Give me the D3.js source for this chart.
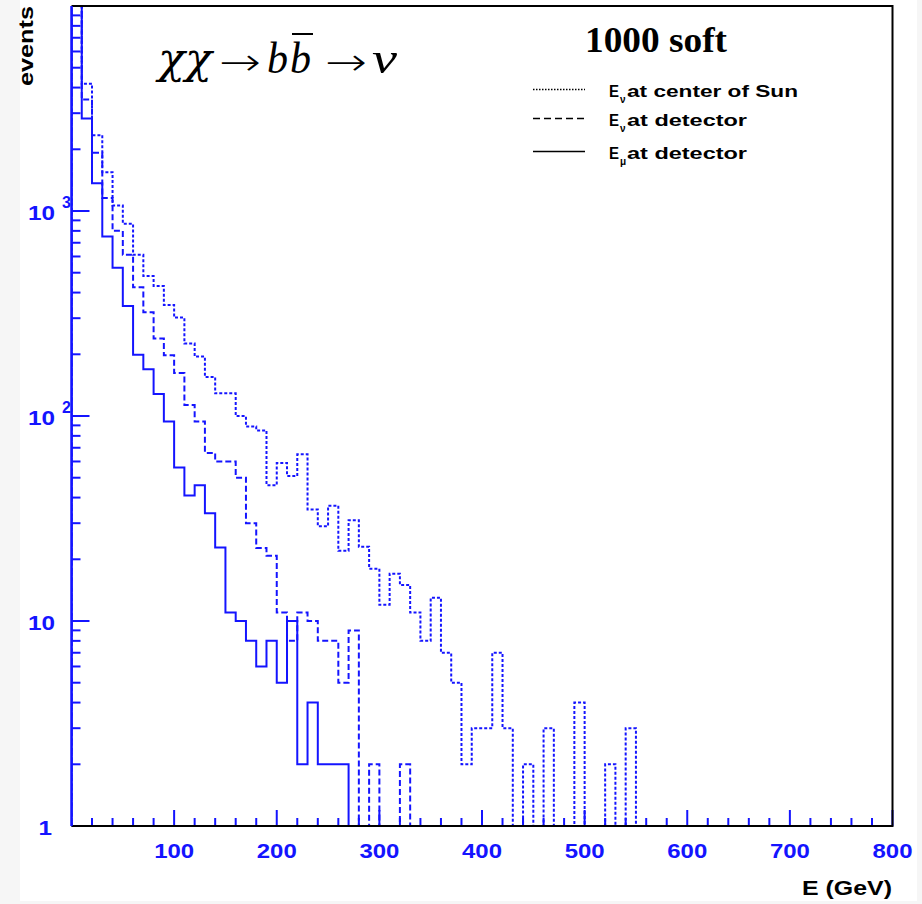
<!DOCTYPE html>
<html>
<head>
<meta charset="utf-8">
<script src="https://cdn.jsdelivr.net/npm/d3@7"></script>
<style>
  body { margin: 0; background: #f6f6f6; }
  svg { display: block; }
</style>
</head>
<body>
<svg id="chart" width="922" height="904"></svg>
<script>
// histogram contents, one value per 10 GeV bin starting at 0
const binWidth = 10;
const sunCenter = [14000, 4180, 2344, 1546, 1064, 866, 611, 482, 431, 348, 302, 226, 195, 155, 129, 129,
  100, 89, 85, 46, 59, 51, 65, 35, 29, 36.5, 22, 31, 23, 18, 12, 17, 15, 11, 8, 13, 7, 5, 2, 3, 3, 7, 3,
  0, 2, 0, 3, 0, 0, 4, 0, 0, 2, 0, 3];
const nuDetector = [13000, 3494, 1923, 1157, 800, 611, 425, 321, 239, 198, 162, 113, 94, 66, 60, 60,
  50, 30, 22.7, 20.8, 11, 8, 11, 10, 8, 8, 5, 9, 0, 2, 0, 0, 2];
const muDetector = [12000, 2830, 1365, 751, 529, 344, 199, 169, 128, 94, 56, 41, 46, 33.5, 22.8, 11,
  10, 8, 6, 8, 5, 10, 2, 4, 2, 2, 2];

const xTicks = [100, 200, 300, 400, 500, 600, 700, 800];
const yTicks = [1, 10, 100, 1000];
const yTickText = ['1', '10', '10', '10'];
const yTickSup = ['', '', '2', '3'];
const legendNames = ['at center of Sun', 'at detector', 'at detector'];
const legendSubs = ['\u03bd', '\u03bd', '\u03bc'];

const BLUE = '#1414ff';
const FRAME = {left: 71.5, right: 892.5, top: 6, bottom: 826};

const svg = d3.select('#chart');

// page + white paper
svg.append('rect').attr('x', 20).attr('y', 0).attr('width', 897).attr('height', 901).attr('fill', '#fff');

const x = d3.scaleLinear().domain([0, 800]).range([FRAME.left, FRAME.right]);
const y = d3.scaleLog().domain([1, 10000]).range([FRAME.bottom, FRAME.top]);

svg.append('clipPath').attr('id', 'plotClip')
  .append('rect')
  .attr('x', FRAME.left).attr('y', FRAME.top)
  .attr('width', FRAME.right - FRAME.left).attr('height', FRAME.bottom - FRAME.top);

// step outline of a histogram, dropping back to baseline at both ends
function stepPoints(values) {
  const pts = [[0, 1]];
  values.forEach((v, i) => pts.push([i * binWidth, Math.max(v, 1)]));
  const last = values.length * binWidth;
  pts.push([last, Math.max(values[values.length - 1], 1)]);
  pts.push([last, 1]);
  return pts;
}

const line = d3.line()
  .x(d => x(d[0]))
  .y(d => y(d[1]))
  .curve(d3.curveStepAfter);

const series = [
  {values: sunCenter, dash: '3,2'},
  {values: nuDetector, dash: '6,3'},
  {values: muDetector, dash: null}
];

const plot = svg.append('g').attr('clip-path', 'url(#plotClip)');
plot.selectAll('path.hist')
  .data(series)
  .enter()
  .append('path')
  .attr('class', 'hist')
  .attr('d', d => line(stepPoints(d.values)))
  .attr('fill', 'none')
  .attr('stroke', BLUE)
  .attr('stroke-width', 2)
  .attr('stroke-dasharray', d => d.dash);

// ticks (drawn inside the frame)
const yMinor = [];
for (let dec = 1; dec < 10000; dec *= 10) {
  for (let m = 2; m <= 9; m++) yMinor.push(m * dec);
}
svg.append('g').selectAll('line')
  .data(yMinor.map(v => ({v, len: 9})).concat(yTicks.map(v => ({v, len: 18}))))
  .enter().append('line')
  .attr('x1', FRAME.left).attr('x2', d => FRAME.left + d.len)
  .attr('y1', d => y(d.v)).attr('y2', d => y(d.v))
  .attr('stroke', BLUE).attr('stroke-width', 2);

const xMinor = d3.range(20, 800, 20).filter(v => v % 100 !== 0);
svg.append('g').selectAll('line')
  .data(xMinor.map(v => ({v, len: 8})).concat(xTicks.map(v => ({v, len: 16}))))
  .enter().append('line')
  .attr('x1', d => x(d.v)).attr('x2', d => x(d.v))
  .attr('y1', FRAME.bottom).attr('y2', d => FRAME.bottom - d.len)
  .attr('stroke', BLUE).attr('stroke-width', 2);

// frame
svg.append('path')
  .attr('d', `M${FRAME.left},${FRAME.bottom}H${FRAME.right}V${FRAME.top}H${FRAME.left}`)
  .attr('fill', 'none').attr('stroke', '#000').attr('stroke-width', 2);
svg.append('line')
  .attr('x1', FRAME.left).attr('x2', FRAME.left)
  .attr('y1', FRAME.top).attr('y2', FRAME.bottom)
  .attr('stroke', BLUE).attr('stroke-width', 2.5);

// tick labels
const labelFont = '"Liberation Sans", Arial, sans-serif';
svg.append('g').selectAll('text')
  .data(xTicks)
  .enter().append('text')
  .attr('x', d => x(d)).attr('y', 858)
  .attr('text-anchor', 'middle')
  .attr('font-family', labelFont).attr('font-weight', 'bold').attr('font-size', 21)
  .attr('textLength', 40).attr('lengthAdjust', 'spacingAndGlyphs')
  .attr('fill', BLUE)
  .text(d => d);

const yLab = svg.append('g').selectAll('g')
  .data(yTicks)
  .enter().append('g');
yLab.append('text')
  .attr('x', (d, i) => i === 0 ? 52 : 55)
  .attr('y', d => y(d) + 9)
  .attr('text-anchor', 'end')
  .attr('font-family', labelFont).attr('font-weight', 'bold').attr('font-size', 21)
  .attr('textLength', (d, i) => yTickText[i].length * 13.5).attr('lengthAdjust', 'spacingAndGlyphs')
  .attr('fill', BLUE)
  .text((d, i) => yTickText[i]);
yLab.append('text')
  .attr('x', 62)
  .attr('y', d => y(d) - 3)
  .attr('font-family', labelFont).attr('font-weight', 'bold').attr('font-size', 16)
  .attr('fill', BLUE)
  .text((d, i) => yTickSup[i]);

// axis titles
svg.append('text')
  .attr('x', 802).attr('y', 895)
  .attr('font-family', labelFont).attr('font-weight', 'bold').attr('font-size', 20)
  .attr('textLength', 90).attr('lengthAdjust', 'spacingAndGlyphs')
  .text('E (GeV)');

svg.append('text')
  .attr('transform', 'translate(33,6) rotate(-90)')
  .attr('text-anchor', 'end')
  .attr('font-family', labelFont).attr('font-weight', 'bold').attr('font-size', 21)
  .attr('textLength', 80).attr('lengthAdjust', 'spacingAndGlyphs')
  .text('events');

// title
svg.append('text')
  .attr('x', 585).attr('y', 52)
  .attr('font-family', '"Liberation Serif", "Times New Roman", serif')
  .attr('font-weight', 'bold').attr('font-size', 35)
  .attr('textLength', 142).attr('lengthAdjust', 'spacingAndGlyphs')
  .text('1000 soft');

// reaction chi chi -> b bbar -> nu
const serif = '"Liberation Serif", "Times New Roman", serif';
const formula = [
  {t: '\u03c7\u03c7', x: 158, y: 73, w: 54, size: 42, font: '"DejaVu Serif", serif', italic: true},
  {t: '\u2192', x: 219, y: 75, w: 42, size: 38, font: '"DejaVu Sans", sans-serif', italic: false},
  {t: 'b', x: 267, y: 73, w: 21, size: 44, font: serif, italic: true},
  {t: 'b', x: 290, y: 73, w: 21, size: 44, font: serif, italic: true},
  {t: '\u2192', x: 325, y: 75, w: 42, size: 38, font: '"DejaVu Sans", sans-serif', italic: false},
  {t: '\u03bd', x: 372, y: 73, w: 25, size: 44, font: serif, italic: true}
];
svg.append('g').selectAll('text')
  .data(formula)
  .enter().append('text')
  .attr('x', d => d.x).attr('y', d => d.y)
  .attr('font-family', d => d.font).attr('font-size', d => d.size)
  .attr('font-weight', d => d.italic ? 'normal' : 200)
  .attr('font-style', d => d.italic ? 'italic' : 'normal')
  .attr('textLength', d => d.w).attr('lengthAdjust', 'spacingAndGlyphs')
  .text(d => d.t);
svg.append('line')
  .attr('x1', 292).attr('x2', 313).attr('y1', 34).attr('y2', 34)
  .attr('stroke', '#000').attr('stroke-width', 2);

// legend
const legendY = [89.5, 118.5, 151.5];
const legendDash = ['1.5,1.5', '7,4', null];
const leg = svg.append('g').selectAll('g')
  .data(legendNames)
  .enter().append('g');
leg.append('line')
  .attr('x1', 533).attr('x2', 585)
  .attr('y1', (d, i) => legendY[i]).attr('y2', (d, i) => legendY[i])
  .attr('stroke', '#000').attr('stroke-width', 1.5)
  .attr('stroke-dasharray', (d, i) => legendDash[i]);
leg.append('text')
  .attr('x', 609).attr('y', (d, i) => legendY[i] + 7)
  .attr('font-family', labelFont).attr('font-weight', 'bold').attr('font-size', 16)
  .attr('textLength', 10).attr('lengthAdjust', 'spacingAndGlyphs')
  .text('E');
leg.append('text')
  .attr('x', 620).attr('y', (d, i) => legendY[i] + 13)
  .attr('font-family', labelFont).attr('font-weight', 'bold').attr('font-size', 10)
  .text((d, i) => legendSubs[i]);
leg.append('text')
  .attr('x', 627).attr('y', (d, i) => legendY[i] + 7)
  .attr('font-family', labelFont).attr('font-weight', 'bold').attr('font-size', 16)
  .attr('textLength', (d, i) => i === 0 ? 171 : 120).attr('lengthAdjust', 'spacingAndGlyphs')
  .text(d => d);
</script>
</body>
</html>
